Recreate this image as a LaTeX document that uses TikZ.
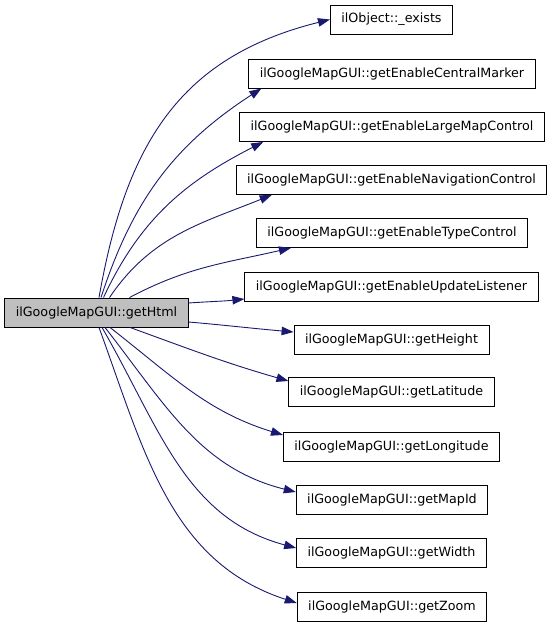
\documentclass[tikz,border=0pt]{standalone}
\usepackage{fontspec}
\setsansfont{DejaVu Sans}
\usepackage{tikz}
\usetikzlibrary{arrows.meta,positioning}
\definecolor{callblue}{HTML}{191970}
\definecolor{callergray}{HTML}{BFBFBF}

\begin{document}
\begin{tikzpicture}[x=1pt, y=1pt,
    fn/.style={draw=black, line width=0.9pt, fill=white, inner xsep=11pt, inner ysep=0pt, minimum height=29pt, font=\sffamily\fontsize{12.7}{15}\selectfont},
    call/.style={draw=callblue, line width=0.9pt, -{Triangle[length=12pt, width=8.5pt, fill=callblue]}}
]
    \useasboundingbox (0,0) rectangle (552,-627);

    % Caller (left)
    \node[fn, fill=callergray] (html) at (96.5,-312.5) {ilGoogleMapGUI::getHtml};

    % Callees (right column)
    \node[fn] (exists)  at (391.5,-19.5) {ilObject::\_exists};
    \node[fn] (central) at (392,-73.5)   {ilGoogleMapGUI::getEnableCentralMarker};
    \node[fn] (large)   at (392,-127)    {ilGoogleMapGUI::getEnableLargeMapControl};
    \node[fn] (nav)     at (391.5,-180)  {ilGoogleMapGUI::getEnableNavigationControl};
    \node[fn] (type)    at (392,-233)    {ilGoogleMapGUI::getEnableTypeControl};
    \node[fn] (update)  at (391.5,-287)  {ilGoogleMapGUI::getEnableUpdateListener};
    \node[fn] (height)  at (391.5,-340)  {ilGoogleMapGUI::getHeight};
    \node[fn] (lat)     at (391.5,-392)  {ilGoogleMapGUI::getLatitude};
    \node[fn] (lon)     at (391.5,-447)  {ilGoogleMapGUI::getLongitude};
    \node[fn] (mapid)   at (392,-500)    {ilGoogleMapGUI::getMapId};
    \node[fn] (width)   at (391.5,-553)  {ilGoogleMapGUI::getWidth};
    \node[fn] (zoom)    at (392,-607)    {ilGoogleMapGUI::getZoom};

    % Calls going up
    \draw[call] ([xshift=2.5pt]html.north) to[out=80, in=194, looseness=1.1] (exists.west);
    \draw[call] ([xshift=4.5pt]html.north) to[out=72, in=213] ([xshift=13pt]central.south west);
    \draw[call] ([xshift=7pt]html.north) to[out=65, in=207] ([xshift=24pt]large.south west);
    \draw[call] ([xshift=13pt]html.north) to[out=56, in=202] ([xshift=36pt]nav.south west);
    \draw[call] ([xshift=33pt]html.north) to[out=28, in=193] ([xshift=35pt]type.south west);
    \draw[call] ([yshift=9.5pt]html.east) to[out=4, in=186] ([yshift=-12pt]update.west);

    % Calls going down
    \draw[call] ([yshift=-9.5pt]html.east) to[out=-5, in=175] ([yshift=8pt]height.west);
    \draw[call] ([xshift=33.5pt]html.south) to[out=-20, in=164] ([yshift=11pt]lat.west);
    \draw[call] ([xshift=13.5pt]html.south) to[out=-38, in=163] ([yshift=12pt]lon.west);
    \draw[call] ([xshift=8.5pt]html.south) to[out=-52, in=166] ([yshift=8pt]mapid.west);
    \draw[call] ([xshift=5.5pt]html.south) to[out=-60, in=165] ([yshift=5pt]width.west);
    \draw[call] ([xshift=2.5pt]html.south) to[out=-70, in=162] ([yshift=4pt]zoom.west);
\end{tikzpicture}
\end{document}
